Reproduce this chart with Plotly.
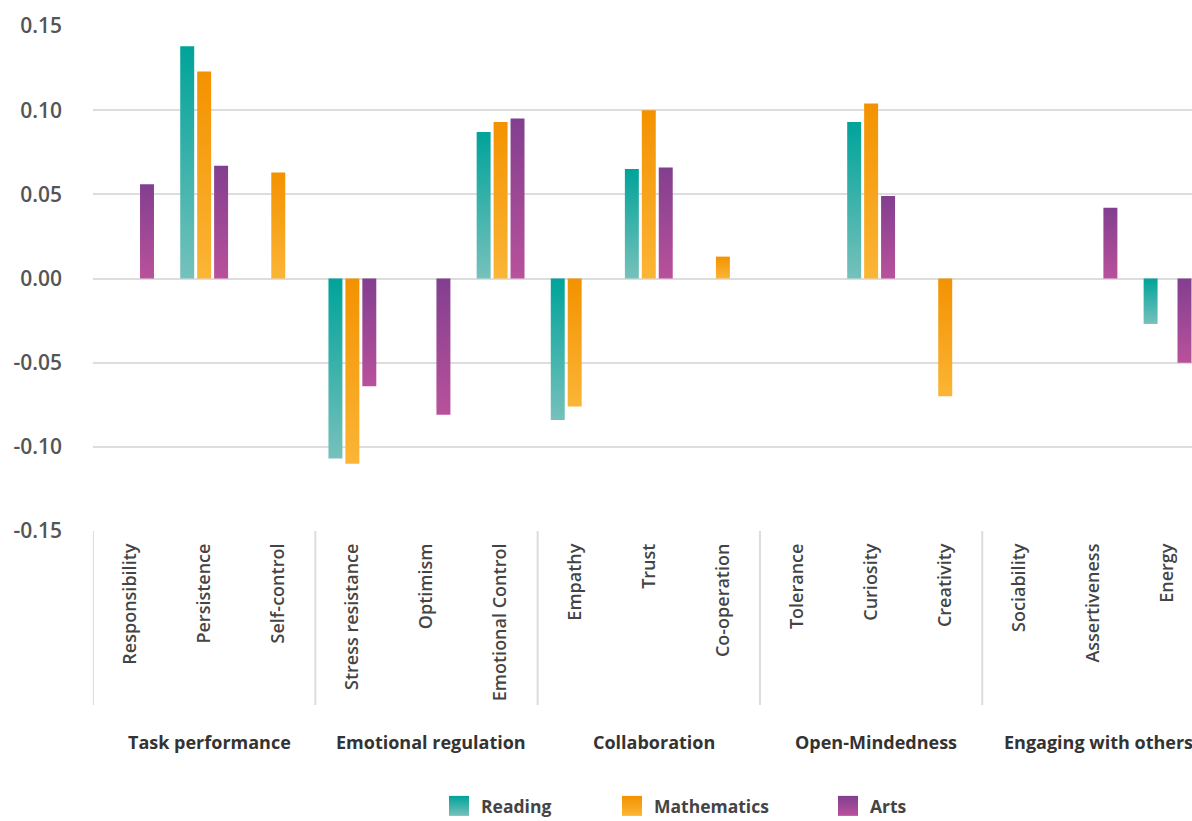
import json
import plotly.graph_objects as go

# ---- data ----
groups = ["Task performance", "Emotional regulation", "Collaboration",
          "Open-Mindedness", "Engaging with others"]
group_sizes = [3, 3, 3, 3, 3]
categories = ["Responsibility", "Persistence", "Self-control",
              "Stress resistance", "Optimism", "Emotional Control",
              "Empathy", "Trust", "Co-operation",
              "Tolerance", "Curiosity", "Creativity",
              "Sociability", "Assertiveness", "Energy"]
reading = [None, 0.138, None, -0.107, None, 0.087, -0.084, 0.065, None,
           None, 0.093, None, None, None, -0.027]
mathematics = [None, 0.123, 0.063, -0.110, None, 0.093, -0.076, 0.100, 0.013,
               None, 0.104, -0.070, None, None, None]
arts = [0.056, 0.067, None, -0.064, -0.081, 0.095, None, 0.066, None,
        None, 0.049, None, None, 0.042, -0.050]
series_names = ["Reading", "Mathematics", "Arts"]
y_tickvals = [0.15, 0.10, 0.05, 0.0, -0.05, -0.10, -0.15]
y_ticktext = ["0.15", "0.10", "0.05", "0.00", "-0.05", "-0.10", "-0.15"]

# ---- style ----
grad_top = ["#00a39a", "#f39200", "#823f8f"]
grad_bottom = ["#76c1bb", "#fbb536", "#b9519b"]
font_family = "Open Sans"
W, H = 1192, 821
plot_left, plot_top, plot_bottom = 93, 26, 531
legend_px = [450, 623, 839]
legend_py = 806

fig = go.Figure()
legend_ids = ["legend", "legend2", "legend3"]
for i, (name, vals) in enumerate(zip(series_names, [reading, mathematics, arts])):
    fig.add_trace(go.Bar(
        x=categories, y=vals, name=name,
        marker=dict(color=grad_top[i], line=dict(width=0)),
        legend=legend_ids[i], showlegend=True,
    ))

fig.update_layout(
    width=W, height=H, showlegend=True,
    margin=dict(l=plot_left, r=0, t=plot_top, b=H - plot_bottom, autoexpand=False),
    paper_bgcolor="white", plot_bgcolor="white",
    barmode="group", bargap=0.314, bargroupgap=0.176,
    font=dict(family=font_family, color="#444"),
    xaxis=dict(
        type="category", categoryorder="array", categoryarray=categories,
        range=[-0.5, 14.33], tickangle=-90, showgrid=False, showline=False,
        zeroline=False, ticks="", ticklabelstandoff=8,
        tickfont=dict(size=18, color="#444", weight=600, family=font_family),
    ),
    yaxis=dict(
        range=[-0.15, 0.15], tickvals=y_tickvals, ticktext=y_ticktext,
        showgrid=True, gridcolor="#dddddd", gridwidth=2,
        zeroline=False, showline=False, ticks="", ticklabelstandoff=30,
        tickfont=dict(size=21, color="#555", weight=600, family=font_family),
    ),
)

for i, lid in enumerate(legend_ids):
    fig.update_layout({lid: dict(
        xref="container", yref="container",
        x=(legend_px[i] - 9) / W, xanchor="left",
        y=1 - legend_py / H, yanchor="middle",
        orientation="h", bgcolor="rgba(0,0,0,0)", visible=True,
        font=dict(size=17.5, color="#444", weight=700, family=font_family),
    )})

# group labels and dividers
plot_h = plot_bottom - plot_top
start = 0
for g, size in zip(groups, group_sizes):
    center = start + (size - 1) / 2
    fig.add_annotation(
        x=center, xref="x", y=-(742 - plot_bottom) / plot_h, yref="paper",
        text=g, showarrow=False, yanchor="middle", xshift=5,
        font=dict(size=18, color="#333", weight=700, family=font_family),
    )
    fig.add_shape(type="line", xref="x", yref="paper",
                  x0=start - 0.5, x1=start - 0.5, y0=0, y1=-(705 - plot_bottom) / plot_h,
                  line=dict(color="#dddddd", width=2))
    start += size

post = """
document.body.style.margin='0';
document.body.style.overflow='hidden';
var gd = document.getElementById('{plot_id}');
var TOP = %s, BOT = %s;
function applyGrad(){
  var ns = 'http://www.w3.org/2000/svg';
  var svg = gd.querySelector('svg.main-svg');
  var defs = document.getElementById('customgrads');
  if(!defs){
    defs = document.createElementNS(ns,'defs'); defs.id='customgrads';
    for(var i=0;i<TOP.length;i++){
      var lg = document.createElementNS(ns,'linearGradient');
      lg.id='cgrad'+i; lg.setAttribute('x1','0'); lg.setAttribute('y1','0');
      lg.setAttribute('x2','0'); lg.setAttribute('y2','1');
      var s1 = document.createElementNS(ns,'stop'); s1.setAttribute('offset','0'); s1.setAttribute('stop-color',TOP[i]);
      var s2 = document.createElementNS(ns,'stop'); s2.setAttribute('offset','1'); s2.setAttribute('stop-color',BOT[i]);
      lg.appendChild(s1); lg.appendChild(s2); defs.appendChild(lg);
    }
    svg.insertBefore(defs, svg.firstChild);
  }
  gd.querySelectorAll('.barlayer .trace').forEach(function(t){
    var idx = t.__data__[0].trace.index;
    t.querySelectorAll('path').forEach(function(p){ p.style.fill='url(#cgrad'+idx+')'; });
  });
  gd.querySelectorAll('g.traces').forEach(function(t){
    var idx = t.__data__[0].trace.index;
    t.querySelectorAll('.legendpoints path').forEach(function(p){
      p.setAttribute('d','M8,10H-12V-10H8Z');
      p.style.fill='url(#cgrad'+idx+')'; p.style.stroke='none';
    });
  });
}
applyGrad();
gd.on('plotly_afterplot', applyGrad);
""" % (json.dumps(grad_top), json.dumps(grad_bottom))

fig.write_html("out.html", post_script=post, config={"displayModeBar": False})
